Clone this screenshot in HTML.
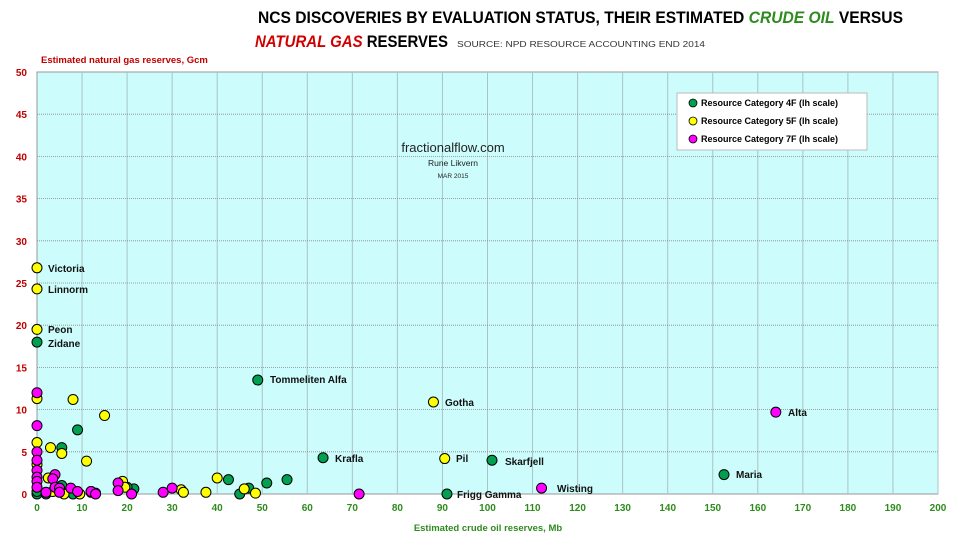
<!DOCTYPE html>
<html><head><meta charset="utf-8"><style>
body{margin:0;background:#fff;font-family:"Liberation Sans",sans-serif}
svg text{font-family:"Liberation Sans",sans-serif}
</style></head><body>
<svg id="s" width="960" height="540" xmlns="http://www.w3.org/2000/svg">
<text x="258" y="23" font-size="17" font-weight="bold" textLength="645" lengthAdjust="spacingAndGlyphs">NCS DISCOVERIES BY EVALUATION STATUS, THEIR ESTIMATED <tspan fill="#2e8b1e" font-style="italic">CRUDE OIL</tspan> VERSUS</text>
<text x="255" y="47" font-size="17" font-weight="bold" textLength="193" lengthAdjust="spacingAndGlyphs"><tspan fill="#d00000" font-style="italic">NATURAL GAS</tspan> RESERVES</text>
<text x="457" y="47" font-size="8" fill="#333" textLength="248" lengthAdjust="spacingAndGlyphs">SOURCE: NPD RESOURCE ACCOUNTING END 2014</text>
<text x="41" y="63" font-size="9.5" font-weight="bold" fill="#c00000">Estimated  natural gas reserves, Gcm</text>
<rect x="37" y="72" width="901" height="422" fill="#ccfcfc" stroke="#999" stroke-width="1"/>
<g id="grid"></g>
<g id="pts"></g>
<text x="453" y="152" font-size="13" text-anchor="middle" fill="#222">fractionalflow.com</text>
<text x="453" y="166" font-size="8.5" text-anchor="middle" fill="#222">Rune Likvern</text>
<text x="453" y="178" font-size="6.5" text-anchor="middle" fill="#222">MAR 2015</text>
<rect x="677" y="93" width="190" height="57" fill="#fff" stroke="#bbb"/>
<g font-size="9" font-weight="bold">
<circle cx="693" cy="103" r="4" fill="#00a050" stroke="#000" stroke-width="0.8"/><text x="701" y="106">Resource Category 4F (lh scale)</text>
<circle cx="693" cy="121" r="4" fill="#ffff00" stroke="#000" stroke-width="0.8"/><text x="701" y="124">Resource Category 5F (lh scale)</text>
<circle cx="693" cy="139" r="4" fill="#ff00ff" stroke="#000" stroke-width="0.8"/><text x="701" y="142">Resource Category 7F (lh scale)</text>
</g>
<text x="488" y="531" font-size="9.5" font-weight="bold" fill="#2e8b1e" text-anchor="middle">Estimated crude oil reserves, Mb</text>
</svg>
<script>
var X=v=>37+v*4.505,Y=v=>494-v*8.44,ns="http://www.w3.org/2000/svg";
function el(p,t,a,tx){var e=document.createElementNS(ns,t);for(var k in a)e.setAttribute(k,a[k]);if(tx)e.textContent=tx;document.getElementById(p).appendChild(e);}
for(var i=1;i<=20;i++)el("grid","line",{x1:X(i*10),x2:X(i*10),y1:72,y2:494,stroke:"#aac4c4","stroke-width":1});
for(var j=1;j<10;j++)el("grid","line",{x1:37,x2:938,y1:Y(j*5),y2:Y(j*5),stroke:"#888","stroke-width":0.8,"stroke-dasharray":"1,1"});
for(var j=0;j<=10;j++)el("grid","text",{x:27,y:Y(j*5)+4,"font-size":10,"font-weight":"bold",fill:"#c00000","text-anchor":"end"},""+j*5);
for(var i=0;i<=20;i++)el("grid","text",{x:X(i*10),y:511,"font-size":10,"font-weight":"bold",fill:"#2e8b1e","text-anchor":"middle"},""+i*10);
var G=[[0,18],[0,0],[9,7.6],[5.5,5.5],[5.5,1],[0,0.3],[8,0],[2,0],[12,0.3],[21.5,0.6],[42.5,1.7],[45,0],[47,0.7],[51,1.3],[55.5,1.7],[49,13.5],[63.5,4.3],[101,4],[91,0],[152.5,2.3],[20,0.8],[13,0.1]];
var Yw=[[0,26.8],[0,24.3],[0,19.5],[0,11.3],[8,11.2],[15,9.3],[0,6.1],[3,5.5],[5.5,4.8],[11,3.9],[2.5,1.9],[19,1.5],[19.5,0.8],[32,0.5],[32.5,0.2],[37.5,0.2],[40,1.9],[46,0.6],[48.5,0.1],[88,10.9],[90.5,4.2],[9.5,0],[6,0],[3.5,0.3],[0,3.5],[12,0.2]];
var M=[[0,12],[0,8.1],[0,5],[0,4],[0,2.8],[0,2],[0,1.5],[0,0.8],[4,2.3],[3.5,1.8],[4,0.8],[5,0.7],[5,0.2],[7.5,0.7],[9,0.3],[12,0.3],[13,0],[2,0.2],[18,1.3],[18,0.4],[21,0],[28,0.2],[30,0.7],[71.5,0],[112,0.7],[164,9.7]];
[[G,"#00a050"],[Yw,"#ffff00"],[M,"#ff00ff"]].forEach(s=>s[0].forEach(p=>el("pts","circle",{cx:X(p[0]),cy:Y(p[1]),r:5,fill:s[1],stroke:"#000","stroke-width":1})));
var L=[["Victoria",48,272],["Linnorm",48,293],["Peon",48,333],["Zidane",48,347],["Tommeliten Alfa",270,383],["Gotha",445,406],["Krafla",335,462],["Pil",456,462],["Skarfjell",505,465],["Alta",788,416],["Maria",736,478],["Wisting",557,492],["Frigg Gamma",457,498]];
L.forEach(l=>el("pts","text",{x:l[1],y:l[2],"font-size":10,"font-weight":"bold",fill:"#111"},l[0]));
</script>
</body></html>
